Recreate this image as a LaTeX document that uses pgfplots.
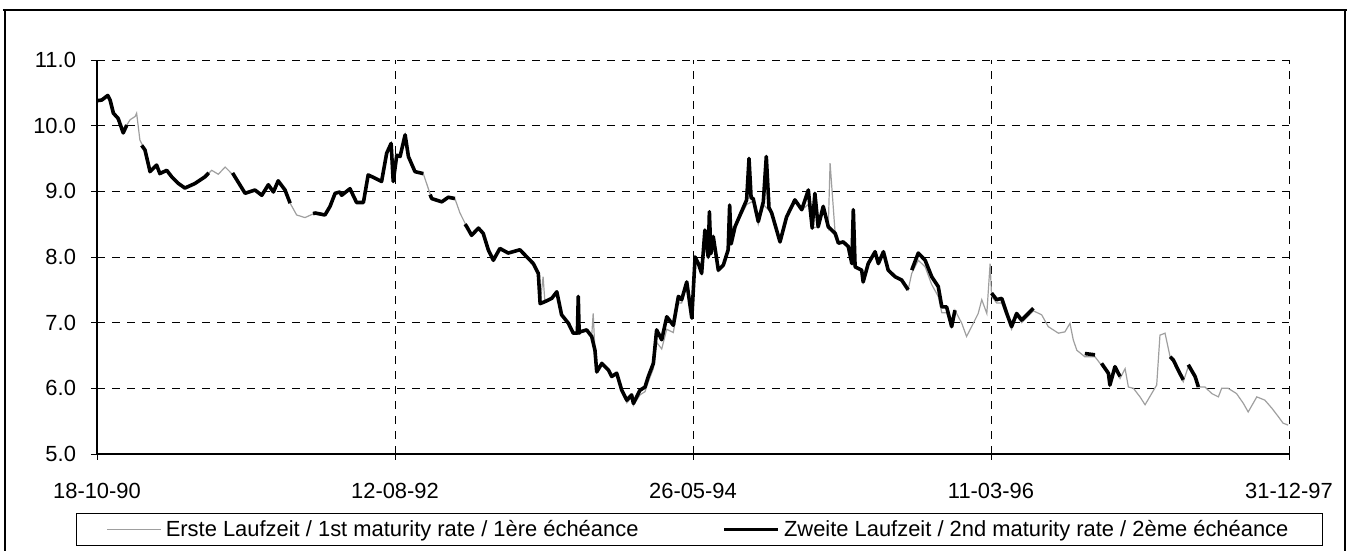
\documentclass[border=0pt]{standalone}
\usepackage{fontspec}
\setmainfont{Liberation Sans}
\usepackage{pgfplots}
\pgfplotsset{compat=1.18}
\usepackage{pgfplotstable}

% x = position between the five date ticks (0 = 18-10-90, 4 = 31-12-97)
\pgfplotstableread{
t y
0.000 10.38
0.016 10.39
0.036 10.46
0.044 10.39
0.055 10.19
0.071 10.11
0.088 9.89
0.100 10.01
0.111 10.09
0.128 10.14
0.133 10.19
0.144 9.78
0.161 9.63
0.178 9.30
0.200 9.40
0.211 9.27
0.234 9.32
0.251 9.22
0.273 9.12
0.295 9.05
0.329 9.12
0.362 9.22
0.385 9.32
0.407 9.26
0.430 9.37
0.463 9.22
0.497 8.97
0.530 9.02
0.553 8.94
0.575 9.10
0.592 8.99
0.608 9.16
0.631 9.02
0.648 8.82
0.670 8.64
0.698 8.60
0.732 8.67
0.765 8.64
0.782 8.77
0.799 8.97
0.815 8.99
0.821 8.94
0.849 9.04
0.871 8.83
0.894 8.83
0.910 9.25
0.933 9.20
0.955 9.15
0.972 9.58
0.987 9.73
0.994 9.15
1.006 9.55
1.017 9.53
1.034 9.86
1.045 9.53
1.067 9.30
1.095 9.27
1.123 8.89
1.157 8.84
1.179 8.91
1.201 8.89
1.218 8.67
1.241 8.46
1.257 8.33
1.280 8.44
1.296 8.36
1.313 8.11
1.330 7.95
1.352 8.13
1.380 8.06
1.419 8.11
1.447 7.98
1.464 7.90
1.481 7.75
1.487 7.29
1.497 7.70
1.503 7.32
1.526 7.37
1.543 7.47
1.559 7.12
1.582 6.99
1.598 6.84
1.615 6.84
1.621 6.86
1.643 6.89
1.660 6.79
1.665 7.14
1.671 6.58
1.677 6.25
1.694 6.38
1.716 6.28
1.727 6.18
1.744 6.23
1.761 5.95
1.778 5.78
1.794 5.86
1.800 5.74
1.822 5.90
1.839 5.95
1.850 6.10
1.867 6.30
1.878 6.70
1.895 6.60
1.912 6.90
1.934 6.85
1.951 7.30
1.962 7.30
1.979 7.60
1.996 7.07
2.007 8.00
2.018 7.90
2.029 7.75
2.040 8.35
2.051 8.00
2.068 8.31
2.085 7.78
2.102 7.85
2.118 8.11
2.141 8.46
2.158 8.60
2.180 8.80
2.202 8.85
2.219 8.50
2.236 8.80
2.264 8.67
2.292 8.23
2.314 8.61
2.342 8.87
2.365 8.72
2.387 8.80
2.400 8.44
2.420 8.46
2.437 8.77
2.454 8.46
2.460 9.43
2.477 8.36
2.488 8.21
2.504 8.23
2.521 8.16
2.533 7.90
2.544 7.85
2.566 7.80
2.571 7.62
2.588 7.90
2.611 8.05
2.622 7.90
2.639 8.08
2.655 7.80
2.678 7.70
2.700 7.65
2.722 7.50
2.734 7.75
2.756 7.95
2.779 7.85
2.801 7.58
2.823 7.40
2.835 7.15
2.851 7.15
2.868 6.94
2.879 7.19
2.902 6.99
2.918 6.79
2.935 6.94
2.957 7.14
2.969 7.35
2.986 7.14
2.997 7.90
3.002 7.40
3.019 7.30
3.036 7.30
3.053 7.10
3.069 6.90
3.086 7.10
3.103 7.00
3.125 7.10
3.142 7.18
3.170 7.12
3.192 6.94
3.226 6.84
3.248 6.86
3.265 6.99
3.276 6.74
3.288 6.58
3.315 6.48
3.349 6.48
3.371 6.35
3.394 6.20
3.399 6.05
3.416 6.30
3.433 6.15
3.450 6.30
3.461 6.02
3.478 6.00
3.500 5.87
3.517 5.75
3.539 5.92
3.556 6.05
3.567 6.81
3.584 6.84
3.601 6.48
3.612 6.40
3.628 6.25
3.645 6.10
3.662 6.33
3.685 6.15
3.696 6.02
3.718 6.02
3.741 5.92
3.763 5.87
3.774 6.00
3.796 6.00
3.824 5.92
3.847 5.77
3.863 5.64
3.892 5.87
3.919 5.82
3.942 5.70
3.964 5.57
3.980 5.47
3.997 5.44
}\erste

\pgfplotstableread{
t y
0.000 10.38
0.016 10.39
0.036 10.46
0.044 10.39
0.055 10.19
0.071 10.11
0.088 9.89
0.100 10.01
0.105 nan
0.150 9.70
0.161 9.63
0.178 9.30
0.200 9.40
0.211 9.27
0.234 9.32
0.251 9.22
0.273 9.12
0.295 9.05
0.329 9.12
0.362 9.22
0.375 9.28
0.380 nan
0.455 9.28
0.463 9.22
0.497 8.97
0.530 9.02
0.553 8.94
0.575 9.10
0.592 8.99
0.608 9.16
0.631 9.02
0.648 8.82
0.655 nan
0.725 8.66
0.732 8.67
0.765 8.64
0.782 8.77
0.799 8.97
0.815 8.99
0.821 8.94
0.849 9.04
0.871 8.83
0.894 8.83
0.910 9.25
0.933 9.20
0.955 9.15
0.972 9.58
0.987 9.73
0.994 9.15
1.006 9.55
1.017 9.53
1.034 9.86
1.045 9.53
1.067 9.30
1.095 9.27
1.105 nan
1.118 8.95
1.123 8.89
1.157 8.84
1.179 8.91
1.201 8.89
1.210 nan
1.235 8.50
1.241 8.46
1.257 8.33
1.280 8.44
1.296 8.36
1.313 8.11
1.330 7.95
1.352 8.13
1.380 8.06
1.419 8.11
1.447 7.98
1.464 7.90
1.481 7.75
1.487 7.29
1.503 7.32
1.526 7.37
1.543 7.47
1.559 7.12
1.582 6.99
1.598 6.84
1.612 6.84
1.615 7.40
1.618 6.84
1.621 6.86
1.643 6.89
1.660 6.79
1.671 6.58
1.677 6.25
1.694 6.38
1.716 6.28
1.727 6.18
1.744 6.23
1.761 5.97
1.778 5.82
1.794 5.90
1.800 5.77
1.822 5.97
1.839 6.02
1.850 6.18
1.867 6.38
1.878 6.89
1.895 6.74
1.912 7.09
1.934 6.96
1.951 7.40
1.962 7.35
1.979 7.62
1.996 7.07
2.007 8.00
2.018 7.90
2.029 7.75
2.040 8.41
2.051 8.00
2.055 8.69
2.060 8.05
2.068 8.31
2.085 7.80
2.102 7.88
2.118 8.11
2.123 8.79
2.128 8.20
2.141 8.46
2.158 8.64
2.180 8.87
2.188 9.50
2.195 8.90
2.202 8.89
2.219 8.54
2.236 8.84
2.246 9.53
2.255 8.75
2.264 8.67
2.292 8.23
2.314 8.61
2.342 8.87
2.365 8.72
2.387 9.02
2.400 8.44
2.409 8.97
2.420 8.46
2.437 8.77
2.454 8.46
2.477 8.36
2.488 8.21
2.504 8.23
2.521 8.16
2.533 7.90
2.538 8.72
2.544 7.85
2.566 7.80
2.571 7.62
2.588 7.90
2.611 8.08
2.622 7.90
2.639 8.08
2.655 7.80
2.678 7.70
2.700 7.65
2.722 7.50
2.728 nan
2.734 7.80
2.756 8.06
2.779 7.95
2.801 7.70
2.823 7.55
2.835 7.24
2.851 7.24
2.868 6.94
2.879 7.19
2.890 nan
3.002 7.45
3.019 7.35
3.036 7.37
3.053 7.14
3.069 6.94
3.086 7.14
3.103 7.04
3.125 7.14
3.142 7.22
3.150 nan
3.315 6.53
3.349 6.51
3.360 nan
3.371 6.38
3.394 6.23
3.399 6.05
3.416 6.33
3.433 6.18
3.440 nan
3.601 6.48
3.612 6.43
3.628 6.28
3.645 6.13
3.655 nan
3.662 6.36
3.685 6.18
3.696 6.02
3.700 nan
}\zweite

\begin{document}
\begin{tikzpicture}
\path[use as bounding box] (-48.5bp,-48.5bp) rectangle (626bp,227bp);
\draw[line width=0.6pt] (-46bp,-48.5bp) -- (-46bp,222bp);
\draw[line width=0.6pt] (624bp,-48.5bp) -- (624bp,222bp);
\draw[line width=1.2pt] (-47bp,222bp) -- (625bp,222bp);
\begin{axis}[
    at={(0,0)}, anchor=south west,
    scale only axis,
    width=596bp, height=197bp,
    xmin=0, xmax=4, ymin=5, ymax=11,
    axis lines*=left,
    axis line style={line width=0.6pt},
    xtick={0,1,2,3,4},
    xticklabels={18-10-90,12-08-92,26-05-94,11-03-96,31-12-97},
    ytick={5,6,7,8,9,10,11},
    yticklabels={5.0,6.0,7.0,8.0,9.0,10.0,11.0},
    tick align=outside,
    major tick length=3bp,
    tick style={black, line width=0.5pt},
    ticklabel style={font=\fontsize{11}{13}\selectfont},
    xticklabel style={yshift=-8bp},
    yticklabel style={xshift=-4bp},
    grid=major,
    grid style={black, line width=0.5pt, dash pattern=on 4bp off 3.5bp},
    unbounded coords=jump,
    legend columns=2,
    legend cell align=left,
    legend image code/.code={\draw[#1] (0bp,0bp) -- (27bp,0bp);},
    legend style={
        at={(axis description cs:-0.0176,-0.1497)}, anchor=north west,
        draw=black, line width=0.6pt,
        font=\fontsize{11}{13}\selectfont,
        inner xsep=15bp, inner ysep=1.2bp,
        /tikz/every even column/.append style={column sep=40bp},
    },
]
\addplot[gray!75, line width=0.6pt] table[x=t, y=y] {\erste};
\addlegendentry{Erste Laufzeit / 1st maturity rate / 1ère échéance}
\addplot[black, line width=1.8pt, line join=round] table[x=t, y=y] {\zweite};
\addlegendentry{Zweite Laufzeit / 2nd maturity rate / 2ème échéance}
\end{axis}
\end{tikzpicture}
\end{document}
